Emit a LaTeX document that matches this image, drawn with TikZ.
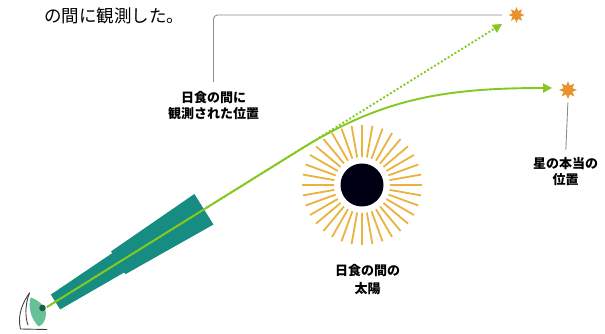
\documentclass[tikz,border=0pt]{standalone}
\usepackage{fontspec}
\setmainfont{Noto Sans CJK JP}
\usetikzlibrary{arrows.meta,shapes.geometric}
\definecolor{lightpath}{RGB}{132,200,32}
\definecolor{starorange}{RGB}{232,146,46}
\definecolor{raygold}{RGB}{234,178,62}
\definecolor{scopeteal}{RGB}{22,140,130}
\definecolor{irisgreen}{RGB}{104,192,150}
\definecolor{pupilgreen}{RGB}{30,92,72}
\definecolor{leadergray}{RGB}{140,140,140}
\begin{document}
\begin{tikzpicture}[x=1pt,y=1pt,
  lbl/.style={font=\bfseries\fontsize{13}{16}\selectfont, align=center, inner sep=0pt},
  starmark/.style={star, star points=8, star point ratio=1.9, fill=starorange, draw=none, inner sep=0pt, minimum size=#1},
  leader/.style={draw=leadergray, line width=0.9pt},
  ray/.style={draw=lightpath, line width=1.9pt, -{Triangle[length=9pt,width=9pt]}},
  eyeline/.style={draw=black!75, line width=0.9pt, line cap=round}]
\useasboundingbox (0,0) rectangle (605,334);

% caption fragment at the top
\node[anchor=west, inner sep=0pt, font=\fontsize{17.5}{20}\selectfont] (title) at (44,318) {の間に観測した。};

% telescope: eyepiece and main tube, tapered, along the line of sight
\begin{scope}[shift={(55.5,32)}, rotate=32]
  \fill[scopeteal] (0,-8.75) -- (78,-11.5) -- (78,11.5) -- (0,8.75) -- cycle;
  \fill[scopeteal] (74,-13.5) -- (175,-18) -- (175,18) -- (74,13.5) -- cycle;
\end{scope}

% observer's eye
\fill[irisgreen] (30.5,36.5) .. controls (39,34) and (46,27) .. (46,20)
  .. controls (46,13) and (42,9) .. (39,7.5)
  .. controls (31,14) and (28,27) .. (30.5,36.5) -- cycle;
\fill[pupilgreen] (42.5,26) circle (3.3);
\draw[eyeline] (29.5,41) .. controls (23,32) and (17,19) .. (20.5,5) -- (47,4.5);
\draw[eyeline] (29.5,41) .. controls (25,30) and (25,17) .. (28,9);

% eclipsed sun with rays
\coordinate (sun) at (362,149);
\foreach \a in {0,10,...,350}
  \draw[raygold, line width=1.8pt] (sun) ++(\a:28) -- ++(\a:32);
\fill[black!92!blue] (sun) circle (21.5);

% star positions
\node[starmark=16pt] (star1) at (516.5,319) {};
\node[starmark=18pt] (star2) at (568,244) {};

% light paths
\coordinate (eye) at (47,27);
\coordinate (apparent) at (502,310);
\coordinate (bend) at (300,184.4);
\coordinate (arrival) at (552,246);
\draw[ray, dash pattern=on 1.9pt off 2.1pt] (eye) -- (apparent);
\draw[ray] (eye) -- (bend) .. controls (380,234) and (440,246) .. (arrival);

% labels
\node[lbl] (lab1) at (213.5,228.7) {日食の間に\\観測された位置};
\node[lbl] (lab2) at (565.5,162) {星の本当の\\位置};
\node[lbl, font=\bfseries\fontsize{13}{18}\selectfont] (lab3) at (367.5,54) {日食の間の\\太陽};

% leader lines
\draw[leader, rounded corners=4pt, shorten >=6pt] ([yshift=9pt]lab1.north) |- (star1.west);
\draw[leader, shorten <=3pt, shorten >=8pt] (star2.south) -- (lab2.north);
\end{tikzpicture}
\end{document}
